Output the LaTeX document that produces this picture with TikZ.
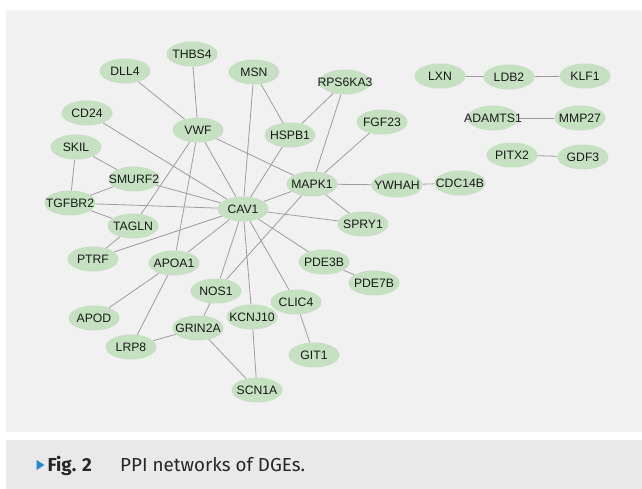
\documentclass[tikz,border=0pt]{standalone}
\usepackage{fontspec}
\setmainfont{Liberation Sans}
\newfontfamily\capfont{Fira Sans}
\usetikzlibrary{shapes.geometric}
\definecolor{bggray}{HTML}{F1F1F1}
\definecolor{capgray}{HTML}{E9E9E9}
\definecolor{nodegreen}{HTML}{C5E1C1}
\definecolor{edgegray}{HTML}{9E9E9E}
\definecolor{capblue}{HTML}{1E8BD2}
\newcommand{\gl}[1]{\makebox[0pt]{#1}}
\begin{document}
\begin{tikzpicture}[x=1pt,y=-1pt,
  gene/.style={ellipse, fill=nodegreen, minimum width=51pt, minimum height=25pt,
    inner sep=0pt, font=\fontsize{12.2}{13}\selectfont, text=black!90},
  link/.style={draw=edgegray, line width=0.8pt},
  captxt/.style={anchor=base west, inner sep=0pt, font=\capfont\fontsize{18.8}{22}\selectfont, text=black!85}]
\useasboundingbox (0,0) rectangle (642,489);
\fill[white] (0,0) rectangle (642,489);
\fill[bggray] (6,10) rectangle (642,432);
\fill[capgray] (6,440) rectangle (642,489);
% nodes
\node[gene] (THBS4) at (192,54) {\gl{THBS4}};
\node[gene] (DLL4) at (125,71) {\gl{DLL4}};
\node[gene] (MSN) at (254,72) {\gl{MSN}};
\node[gene] (RPS6KA3) at (345,82) {\gl{RPS6KA3}};
\node[gene] (CD24) at (87,113) {\gl{CD24}};
\node[gene] (VWF) at (198,130) {\gl{VWF}};
\node[gene] (HSPB1) at (290,135) {\gl{HSPB1}};
\node[gene] (FGF23) at (382,122) {\gl{FGF23}};
\node[gene] (SKIL) at (76,147) {\gl{SKIL}};
\node[gene] (SMURF2) at (134,179) {\gl{SMURF2}};
\node[gene] (MAPK1) at (312,184) {\gl{MAPK1}};
\node[gene] (YWHAH) at (397,185) {\gl{YWHAH}};
\node[gene] (CDC14B) at (460,183) {\gl{CDC14B}};
\node[gene] (TGFBR2) at (70,203) {\gl{TGFBR2}};
\node[gene] (CAV1) at (243,209) {\gl{CAV1}};
\node[gene] (SPRY1) at (363,224) {\gl{SPRY1}};
\node[gene] (TAGLN) at (133,226) {\gl{TAGLN}};
\node[gene] (PTRF) at (93,259) {\gl{PTRF}};
\node[gene] (APOA1) at (174,263) {\gl{APOA1}};
\node[gene] (PDE3B) at (324,262) {\gl{PDE3B}};
\node[gene] (PDE7B) at (374,283) {\gl{PDE7B}};
\node[gene] (NOS1) at (216,291) {\gl{NOS1}};
\node[gene] (CLIC4) at (296,302) {\gl{CLIC4}};
\node[gene] (APOD) at (94,318) {\gl{APOD}};
\node[gene] (KCNJ10) at (252,317) {\gl{KCNJ10}};
\node[gene] (GRIN2A) at (198,328) {\gl{GRIN2A}};
\node[gene] (LRP8) at (131,347) {\gl{LRP8}};
\node[gene] (GIT1) at (314,355) {\gl{GIT1}};
\node[gene] (SCN1A) at (257,390) {\gl{SCN1A}};
\node[gene] (LXN) at (440,76) {\gl{LXN}};
\node[gene] (LDB2) at (509,77) {\gl{LDB2}};
\node[gene] (KLF1) at (585,76) {\gl{KLF1}};
\node[gene] (ADAMTS1) at (493,118) {\gl{ADAMTS1}};
\node[gene] (MMP27) at (580,118) {\gl{MMP27}};
\node[gene] (PITX2) at (512,155) {\gl{PITX2}};
\node[gene] (GDF3) at (583,157) {\gl{GDF3}};
% edges
\foreach \a/\b in {THBS4/VWF, DLL4/VWF, MSN/CAV1, MSN/HSPB1, CD24/CAV1, VWF/CAV1,
  VWF/MAPK1, VWF/TAGLN, VWF/APOA1, HSPB1/CAV1, HSPB1/RPS6KA3, RPS6KA3/MAPK1,
  FGF23/MAPK1, MAPK1/YWHAH, YWHAH/CDC14B, MAPK1/SPRY1, MAPK1/CAV1, MAPK1/NOS1,
  CAV1/SPRY1, CAV1/PDE3B, PDE3B/PDE7B, CAV1/CLIC4, CLIC4/GIT1, CAV1/KCNJ10,
  KCNJ10/SCN1A, CAV1/NOS1, NOS1/GRIN2A, GRIN2A/SCN1A, GRIN2A/LRP8, APOA1/LRP8,
  APOA1/APOD, CAV1/APOA1, CAV1/PTRF, PTRF/TAGLN, TAGLN/TGFBR2, TGFBR2/CAV1,
  TGFBR2/SMURF2, TGFBR2/SKIL, SKIL/SMURF2, SMURF2/CAV1,
  LXN/LDB2, LDB2/KLF1, ADAMTS1/MMP27, PITX2/GDF3}
  \draw[link] (\a) -- (\b);
% caption
\fill[capblue] (36.7,460) -- (44.3,465) -- (36.7,470) -- cycle;
\node[captxt] (figlbl) at (47.3,471) {\bfseries Fig. 2};
\node[captxt] (captext) at (120,471) {PPI networks of DGEs.};
\end{tikzpicture}
\end{document}
